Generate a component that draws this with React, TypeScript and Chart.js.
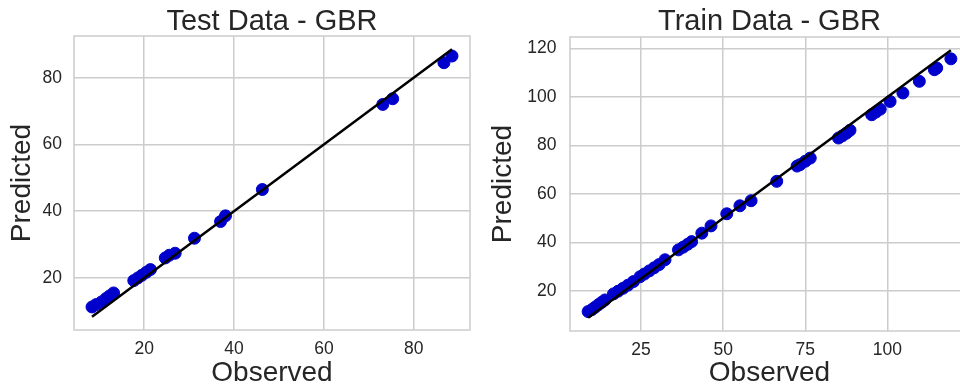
import React, { useEffect, useRef } from "react";
import { Chart, registerables } from "chart.js";

Chart.register(...registerables);

// ---- data ----
const testObserved = [8.4, 9.3, 10.5, 11.5, 12.3, 13.2, 17.7, 18.6, 19.5, 20.5, 21.4, 24.7, 25.6, 26.9, 31.2, 37.0, 38.1, 46.3, 73.1, 75.3, 86.7, 88.5];
const testPredicted = [11.3, 12.0, 12.8, 13.8, 14.6, 15.5, 19.2, 20.0, 20.8, 21.7, 22.5, 26.0, 26.8, 27.4, 31.9, 36.9, 38.6, 46.5, 72.0, 73.7, 84.5, 86.5];

const trainObserved = [8.9, 10, 11, 12, 13, 14, 16.6, 18, 19.5, 21, 22.7, 24.7, 26, 27.5, 29, 30.5, 32.3, 36.4, 37.8, 39.2, 40.4, 43.5, 46.3, 51.1, 55.1, 58.5, 66.3, 72.5, 73.4, 75, 76.5, 85.1, 86.3, 87.5, 88.6, 95.2, 96.5, 97.8, 100.8, 104.7, 109.7, 114.3, 115, 119.3];
const trainPredicted = [11.4, 12.2, 13.2, 14.2, 15.2, 16.2, 18.7, 19.8, 21, 22.3, 23.8, 25.8, 26.9, 28.2, 29.5, 30.8, 32.8, 36.9, 38, 39.2, 40.3, 43.8, 46.8, 51.8, 55.1, 57.2, 65.2, 71.5, 72.1, 73.5, 74.8, 83.1, 84, 85.1, 86.3, 92.7, 93.8, 95, 98.2, 101.7, 106.5, 111.3, 112, 115.8];

const testXTicks = [20, 40, 60, 80];
const testYTicks = [20, 40, 60, 80];
const trainXTicks = [25, 50, 75, 100];
const trainYTicks = [20, 40, 60, 80, 100, 120];

const testTitle = "Test Data - GBR";
const trainTitle = "Train Data - GBR";
const xLabel = "Observed";
const yLabel = "Predicted";

// ---- style ----
const FONT = '"Liberation Sans", Arial, Helvetica, sans-serif';
const TEXT = "#262626";
const GRID = "#cccccc";
const BLUE = "#0000cd";

function padRange(values: number[]): [number, number] {
  const lo = Math.min(...values);
  const hi = Math.max(...values);
  const p = (hi - lo) * 0.05;
  return [lo - p, hi + p];
}

const framePlugin = {
  id: "frame",
  beforeDatasetsDraw(chart: any) {
    const { ctx, chartArea: a } = chart;
    ctx.save();
    ctx.strokeStyle = GRID;
    ctx.lineWidth = 1.5;
    ctx.strokeRect(a.left, a.top, a.right - a.left, a.bottom - a.top);
    ctx.restore();
  },
};

type Props = {
  title: string;
  observed: number[];
  predicted: number[];
  xTicks: number[];
  yTicks: number[];
  left: number;
  width: number;
  yAxisWidth: number;
  xAxisHeight: number;
  padRight: number;
  titlePadTop: number;
  titlePadBottom: number;
  yTickPad: number;
  yTitlePad: number;
};

function ParityChart(p: Props) {
  const ref = useRef<HTMLCanvasElement | null>(null);
  useEffect(() => {
    if (!ref.current) return;
    const lo = Math.min(...p.observed);
    const hi = Math.max(...p.observed);
    const [mn, mx] = padRange(p.observed.concat(p.predicted));
    const points = p.observed.map((x, i) => ({ x, y: p.predicted[i] }));
    const chart = new Chart(ref.current, {
      type: "scatter",
      data: {
        datasets: [
          {
            data: [
              { x: lo, y: lo },
              { x: hi, y: hi },
            ],
            showLine: true,
            borderColor: "#000000",
            borderWidth: 2.5,
            pointRadius: 0,
            pointHoverRadius: 0,
          } as any,
          {
            data: points,
            backgroundColor: BLUE,
            borderColor: BLUE,
            borderWidth: 1,
            pointRadius: 6,
            pointHoverRadius: 6,
          },
        ],
      },
      options: {
        responsive: false,
        animation: false,
        devicePixelRatio: 1,
        events: [],
        layout: { padding: { left: 0, right: p.padRight, top: 0, bottom: 0 } },
        plugins: {
          legend: { display: false },
          tooltip: { enabled: false },
          title: {
            display: true,
            text: p.title,
            color: TEXT,
            fullSize: false,
            font: { family: FONT, size: 29, weight: "normal", lineHeight: 1 },
            padding: { top: p.titlePadTop, bottom: p.titlePadBottom },
          },
        },
        scales: {
          x: {
            type: "linear",
            position: "bottom",
            min: mn,
            max: mx,
            afterBuildTicks: (axis: any) => {
              axis.ticks = p.xTicks.map((v) => ({ value: v }));
            },
            afterFit: (axis: any) => {
              axis.height = p.xAxisHeight;
            },
            grid: { color: GRID, lineWidth: 1.5, drawTicks: false },
            border: { display: false },
            ticks: {
              color: TEXT,
              font: { family: FONT, size: 17.5 },
              padding: 9,
              maxRotation: 0,
              autoSkip: false,
            },
            title: {
              display: true,
              text: xLabel,
              color: TEXT,
              font: { family: FONT, size: 28, lineHeight: 1 },
              padding: { top: 0, bottom: 2.5 },
            },
          },
          y: {
            type: "linear",
            position: "left",
            min: mn,
            max: mx,
            afterBuildTicks: (axis: any) => {
              axis.ticks = p.yTicks.map((v) => ({ value: v }));
            },
            afterFit: (axis: any) => {
              axis.width = p.yAxisWidth;
            },
            grid: { color: GRID, lineWidth: 1.5, drawTicks: false },
            border: { display: false },
            ticks: {
              color: TEXT,
              font: { family: FONT, size: 17.5 },
              padding: p.yTickPad,
              autoSkip: false,
            },
            title: {
              display: true,
              text: yLabel,
              color: TEXT,
              font: { family: FONT, size: 28, lineHeight: 1 },
              padding: { top: p.yTitlePad, bottom: 0 },
            },
          },
        },
      } as any,
      plugins: [framePlugin],
    });
    return () => chart.destroy();
  }, []);
  return (
    <canvas
      ref={ref}
      width={p.width}
      height={390}
      style={{ position: "absolute", left: p.left, top: 0, width: p.width, height: 390 }}
    />
  );
}

export default function App() {
  return (
    <div
      style={{
        position: "fixed",
        left: 0,
        top: 0,
        width: 960,
        height: 390,
        overflow: "hidden",
        background: "#ffffff",
      }}
    >
      <ParityChart
        title={testTitle}
        observed={testObserved}
        predicted={testPredicted}
        xTicks={testXTicks}
        yTicks={testYTicks}
        left={0}
        width={480}
        yAxisWidth={74}
        xAxisHeight={60}
        padRight={10}
        titlePadTop={7}
        titlePadBottom={0}
        yTickPad={12}
        yTitlePad={8}
      />
      <ParityChart
        title={trainTitle}
        observed={trainObserved}
        predicted={trainPredicted}
        xTicks={trainXTicks}
        yTicks={trainYTicks}
        left={480}
        width={500}
        yAxisWidth={90}
        xAxisHeight={59}
        padRight={11}
        titlePadTop={7}
        titlePadBottom={1}
        yTickPad={13.5}
        yTitlePad={9.5}
      />
    </div>
  );
}
